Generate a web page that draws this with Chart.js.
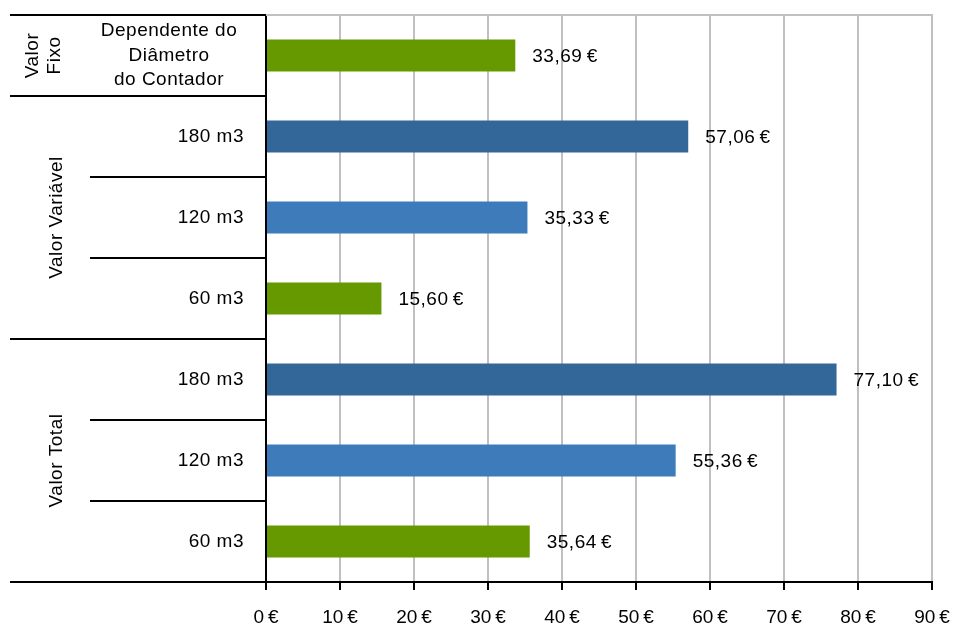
<!DOCTYPE html>
<html>
<head>
<meta charset="utf-8">
<script src="https://cdn.jsdelivr.net/npm/chart.js@4"></script>
<style>
html,body{margin:0;padding:0;background:#fff;}
canvas{display:block;}
</style>
</head>
<body>
<canvas id="c" width="957" height="627"></canvas>
<script>
// ---- data ----
const categories = [
  ['Dependente do', 'Diâmetro', 'do Contador'],
  '180 m3', '120 m3', '60 m3',
  '180 m3', '120 m3', '60 m3'
];
const values = [33.69, 57.06, 35.33, 15.60, 77.10, 55.36, 35.64];
const groupNames = ['Valor Fixo', 'Valor Variável', 'Valor Total'];
const groupSizes = [1, 3, 3];
const xTicks = [0, 10, 20, 30, 40, 50, 60, 70, 80, 90];

const GREEN = '#669900', DARK = '#336699', LIGHT = '#3e7bbb';
const barColors = [GREEN, DARK, LIGHT, GREEN, DARK, LIGHT, GREEN];
const FONT = '"Liberation Sans", Arial, sans-serif';

const fmt = v => v.toFixed(2).replace('.', ',') + '\u2009€';

const decor = {
  id: 'decor',
  afterDraw(chart) {
    const ctx = chart.ctx;
    const ys = chart.scales.y, area = chart.chartArea;
    const n = categories.length;
    const px = i => ys.getPixelForTick(i);
    const boundary = i => {
      if (i <= 0) return area.top;
      if (i >= n) return area.bottom;
      return (px(i - 1) + px(i)) / 2;
    };
    ctx.save();
    // top gray border of plot area
    ctx.strokeStyle = '#c0c0c0';
    ctx.lineWidth = 2;
    ctx.beginPath();
    ctx.moveTo(area.left, area.top);
    ctx.lineTo(area.right + 1, area.top);
    ctx.stroke();

    // separator lines
    ctx.strokeStyle = '#000';
    ctx.lineWidth = 2;
    let starts = new Set([0]);
    let acc = 0;
    groupSizes.forEach(s => { acc += s; starts.add(acc); });
    for (let i = 0; i <= n; i++) {
      const y = Math.round(boundary(i));
      const x0 = starts.has(i) ? 10 : 90;
      ctx.beginPath();
      ctx.moveTo(x0, y);
      ctx.lineTo(area.left, y);
      ctx.stroke();
    }

    // category labels
    ctx.fillStyle = '#000';
    ctx.font = '19px ' + FONT;
    if ('letterSpacing' in ctx) ctx.letterSpacing = '0.5px';
    ctx.textBaseline = 'middle';
    categories.forEach((lab, i) => {
      const y = px(i);
      if (Array.isArray(lab)) {
        ctx.textAlign = 'center';
        const lh = 24.5;
        lab.forEach((line, k) => {
          ctx.fillText(line, 169, y + (k - (lab.length - 1) / 2) * lh);
        });
      } else {
        ctx.textAlign = 'right';
        ctx.fillText(lab, area.left - 22, y);
      }
    });

    // group labels (rotated)
    let start = 0;
    groupNames.forEach((name, g) => {
      const yc = (boundary(start) + boundary(start + groupSizes[g])) / 2;
      ctx.save();
      ctx.translate(0, yc);
      ctx.rotate(-Math.PI / 2);
      ctx.textAlign = 'center';
      if (groupSizes[g] === 1) {
        const parts = name.split(' ');
        parts.forEach((p, k) => {
          ctx.fillText(p, 0, 33 + k * 22);
        });
      } else {
        ctx.fillText(name, 0, 57);
      }
      ctx.restore();
      start += groupSizes[g];
    });

    // value labels
    const meta = chart.getDatasetMeta(0);
    ctx.textAlign = 'left';
    meta.data.forEach((bar, i) => {
      ctx.fillText(fmt(values[i]), bar.x + 17, bar.y + 1);
    });
    ctx.restore();
  }
};

new Chart(document.getElementById('c'), {
  type: 'bar',
  data: {
    labels: categories.map(c => Array.isArray(c) ? c.join(' ') : c),
    datasets: [{
      data: values,
      backgroundColor: barColors,
      borderWidth: 0,
      categoryPercentage: 1,
      barPercentage: 0.395
    }]
  },
  options: {
    indexAxis: 'y',
    responsive: false,
    animation: false,
    devicePixelRatio: 1,
    layout: { padding: { top: 15, right: 25, left: 0, bottom: 0 } },
    plugins: { legend: { display: false }, tooltip: { enabled: false } },
    scales: {
      x: {
        min: 0, max: 90,
        afterBuildTicks: s => { s.ticks = xTicks.map(v => ({ value: v })); },
        afterFit: s => { s.height = 45; s.paddingLeft = 0; s.paddingRight = 0; },
        ticks: {
          color: '#000',
          font: { family: FONT, size: 19 },
          padding: 16,
          maxRotation: 0,
          callback: v => v + '\u2009€'
        },
        grid: { color: '#c0c0c0', lineWidth: 2, tickColor: '#000', tickLength: 8 },
        border: { color: '#000', width: 2 }
      },
      y: {
        afterFit: s => { s.width = 266; },
        ticks: { display: false },
        grid: { display: false },
        border: { color: '#000', width: 2 }
      }
    }
  },
  plugins: [decor]
});
</script>
</body>
</html>
